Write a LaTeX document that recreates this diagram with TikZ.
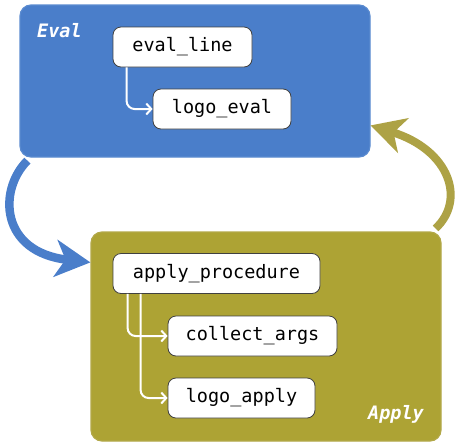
\documentclass[tikz,border=0pt]{standalone}
\usepackage{fontspec}
\setmonofont{DejaVu Sans Mono}
\newfontfamily\labfont{DejaVu Sans Mono Bold Oblique}
\usetikzlibrary{arrows.meta,calc}
\definecolor{evalblue}{HTML}{4A7ECA}
\definecolor{evalbord}{HTML}{5A8BD0}
\definecolor{applyol}{HTML}{ADA334}
\definecolor{applybord}{HTML}{B2A848}
\definecolor{arrol}{HTML}{ADA245}
\begin{document}
\begin{tikzpicture}[x=1pt,y=-1pt,
  container/.style={rounded corners=11pt, line width=1.2pt, minimum width=#1, inner sep=0pt},
  fnbox/.style={draw=black!75, fill=white, line width=0.8pt, rounded corners=8pt, minimum height=40pt, inner sep=0pt, font=\fontsize{18.5}{22}\selectfont\ttfamily},
  inarrow/.style={draw=white, line width=2pt, rounded corners=8pt, -{Straight Barb[length=5pt,width=11pt,line width=2pt]}},
  lab/.style={text=white, font=\fontsize{18.5}{22}\selectfont\labfont, inner sep=0pt}
]
\useasboundingbox (0,0) rectangle (460,445);
\node[container=350pt, minimum height=152pt, fill=evalblue, draw=evalbord] (eval) at (195,81) {};
\node[container=350pt, minimum height=209pt, fill=applyol, draw=applybord] (apply) at (266,336.5) {};
\node[lab] (evallab) at (59.5,31) {Eval};
\node[lab] (applylab) at (396,414) {Apply};
\node[fnbox, minimum width=139pt] (evalline) at (182.5,47) {eval\_line};
\node[fnbox, minimum width=138pt] (logoeval) at (222,109) {logo\_eval};
\node[fnbox, minimum width=207pt] (applyproc) at (216.5,273.5) {apply\_procedure};
\node[fnbox, minimum width=169pt] (collect) at (252.5,336) {collect\_args};
\node[fnbox, minimum width=147pt] (logoapply) at (241.5,398) {logo\_apply};
\draw[inarrow] ([xshift=14pt]evalline.south west) |- (logoeval.west);
\draw[inarrow] ([xshift=15pt]applyproc.south west) |- (collect.west);
\draw[inarrow] ([xshift=28pt]applyproc.south west) |- (logoapply.west);
\draw[evalblue, line width=8.5pt, -{Stealth[length=35pt,width=37pt,inset=10pt]}]
  ([xshift=8pt,yshift=-3pt]eval.south west) .. controls (-2,190) and (0,252) .. ($(apply.north west)+(0,31)$);
\draw[arrol, line width=8pt, -{Stealth[length=34pt,width=36pt,inset=10pt]}]
  ([xshift=-6pt,yshift=3pt]apply.north east) .. controls (466,200) and (450,150) .. ($(eval.north east)+(0,121)$);
\end{tikzpicture}
\end{document}
